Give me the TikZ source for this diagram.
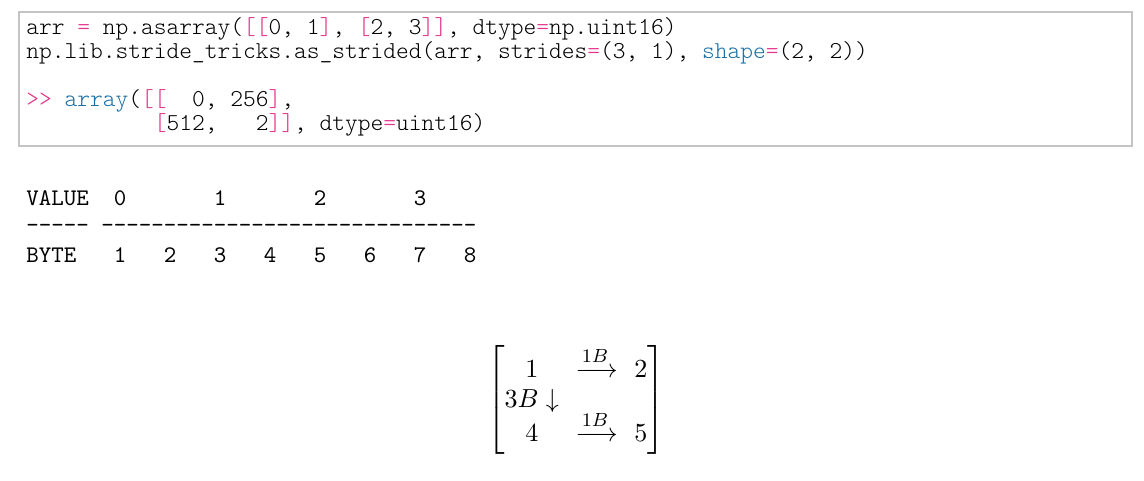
\documentclass[tikz,border=0pt]{standalone}
\usepackage{tikz}
\usepackage{xcolor}
\usepackage{amsmath}
\definecolor{codepink}{HTML}{E5348B}
\definecolor{codeblue}{HTML}{1A6FA6}
\definecolor{boxgray}{HTML}{C4C4C4}
\newcommand{\pk}[1]{\textcolor{codepink}{#1}}
\newcommand{\bl}[1]{\textcolor{codeblue}{#1}}
\newcommand{\dashrun}[1]{\foreach \i in {1,...,#1}{-\kern0pt}}

\begin{document}
\begin{tikzpicture}[
            x = 0.42pt, y = -0.42pt,
            every node/.style = {inner sep = 0pt, anchor = base west, font = \ttfamily\frenchspacing},
            codeline/.style = {font = \fontsize{10.2}{12}\ttfamily\fontseries{l}\selectfont\frenchspacing},
            codebox/.style = {draw = boxgray, line width = 0.6pt},
            stridemat/.style = {anchor = center, font = \fontsize{10.95}{12.6}\selectfont}
        ]
        \useasboundingbox (0,0) rectangle (1144,480);
        \draw[codebox] (19,12) rectangle (1132,146);

        \node[codeline] (code1) at (26,34) {arr~\pk{=}~np.asarray(\pk{[[}0,~1\pk{]},~\pk{[}2,~3\pk{]]},~dtype\pk{=}np.uint16)};
        \node[codeline] (code2) at (26,58) {np.lib.stride\_tricks.as\_strided(arr,~strides\pk{=}(3,~1),~\bl{shape}\pk{=}(2,~2))};
        \node[codeline] (code4) at (26,106) {\pk{>>}~\bl{array}(\pk{[[}~~0,~256\pk{]},};
        \node[codeline] (code5) at (26,130) {~~~~~~~~~~\pk{[}512,~~~2\pk{]]},~dtype\pk{=}uint16)};

        \node (value) at (26,205) {VALUE~~0~~~~~~~1~~~~~~~2~~~~~~~3};
        \node (rule) at (26,232) {\dashrun{5}~\dashrun{30}};
        \node (byte) at (26,262) {BYTE~~~1~~~2~~~3~~~4~~~5~~~6~~~7~~~8};

        \node[stridemat] (stride) at (576,400) {\setlength{\arraycolsep}{3.5pt}\delimitershortfall=-2pt$\begin{bmatrix} \rule{0pt}{12.5pt}1 & \smash{\xrightarrow{1B}} & 2 \\ 3B\downarrow & & \\[1.7pt] \rule[-4.5pt]{0pt}{4.5pt}4 & \smash{\xrightarrow{1B}} & 5 \end{bmatrix}$};
    \end{tikzpicture}
\end{document}
